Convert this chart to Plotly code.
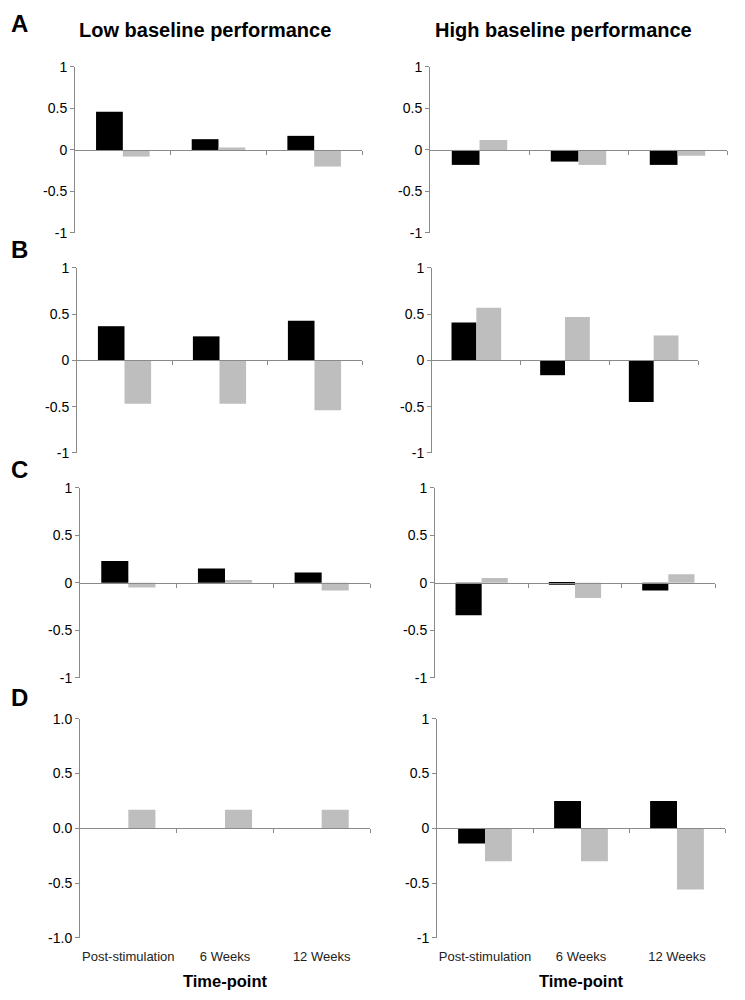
import plotly.graph_objects as go

categories = ["Post-stimulation", "6 Weeks", "12 Weeks"]
panel_letters = ["A", "B", "C", "D"]
column_titles = ["Low baseline performance", "High baseline performance"]
x_title = "Time-point"

# black series / gray series per panel (row, column)
black_A_low = [0.46, 0.13, 0.17]
gray_A_low = [-0.08, 0.03, -0.20]
black_A_high = [-0.18, -0.14, -0.18]
gray_A_high = [0.12, -0.18, -0.07]

black_B_low = [0.37, 0.26, 0.43]
gray_B_low = [-0.47, -0.47, -0.54]
black_B_high = [0.41, -0.16, -0.45]
gray_B_high = [0.57, 0.47, 0.27]

black_C_low = [0.23, 0.15, 0.11]
gray_C_low = [-0.05, 0.03, -0.08]
black_C_high = [-0.34, -0.02, -0.08]
gray_C_high = [0.05, -0.16, 0.09]

black_D_low = [0.0, 0.0, 0.0]
gray_D_low = [0.17, 0.17, 0.17]
black_D_high = [-0.14, 0.25, 0.25]
gray_D_high = [-0.30, -0.30, -0.56]

y_tickvals = [-1, -0.5, 0, 0.5, 1]
y_ticktext_default = ["-1", "-0.5", "0", "0.5", "1"]
y_ticktext_D_low = ["-1.0", "-0.5", "0.0", "0.5", "1.0"]

panels = [
    (black_A_low, gray_A_low), (black_A_high, gray_A_high),
    (black_B_low, gray_B_low), (black_B_high, gray_B_high),
    (black_C_low, gray_C_low), (black_C_high, gray_C_high),
    (black_D_low, gray_D_low), (black_D_high, gray_D_high),
]

W, H = 745, 1000
# pixel layout (left, right) per panel and (top, bottom) per row, in target-picture pixels
x_px = [(75, 362), (430, 727), (77, 362), (432, 698),
        (80, 370), (435, 715), (80, 370), (437, 725)]
y_px = [(67, 233), (268, 453), (488, 678), (719, 938)]


def fy(y):
    # target-picture row -> figure paper fraction (compensates page offset/scale)
    return 1 - ((y - 8) * 1.016) / H


GRAY = "#bebebe"
AXIS = "#8a8a8a"
FONT = "Liberation Sans, Arial, sans-serif"

fig = go.Figure()
layout = {}
for i, (blk, gry) in enumerate(panels):
    k = i + 1
    row, col = divmod(i, 2)
    xd = [x_px[i][0] / W, x_px[i][1] / W]
    yd = [fy(y_px[row][1]), fy(y_px[row][0])]
    ymid = (yd[0] + yd[1]) / 2
    xa = "x" if k == 1 else f"x{k}"
    ya = "y" if k == 1 else f"y{k}"
    fig.add_trace(go.Bar(x=categories, y=blk, marker=dict(color="black", line=dict(width=0)),
                         xaxis=xa, yaxis=ya, showlegend=False))
    fig.add_trace(go.Bar(x=categories, y=gry, marker=dict(color=GRAY, line=dict(width=0)),
                         xaxis=xa, yaxis=ya, showlegend=False))
    bottom = row == 3
    layout[f"xaxis{'' if k == 1 else k}"] = dict(
        domain=xd, anchor=ya, type="category", range=[-0.5, 2.5],
        showline=False, ticks="", showgrid=False, zeroline=False,
        showticklabels=bottom, ticklabelstandoff=9,
        tickfont=dict(family=FONT, size=13, color="#222"),
        title=dict(text=x_title if bottom else "",
                   font=dict(family=FONT, size=16.5, color="black", weight="bold"),
                   standoff=12),
    )
    layout[f"yaxis{'' if k == 1 else k}"] = dict(
        domain=yd, anchor=xa, range=[-1, 1], tickvals=y_tickvals,
        ticktext=y_ticktext_D_low if i == 6 else y_ticktext_default,
        showline=True, linecolor=AXIS, linewidth=1, ticks="outside", ticklen=4,
        tickcolor=AXIS, showgrid=False, zeroline=False,
        tickfont=dict(family=FONT, size=14, color="black"),
    )
    # zero-line axis with category boundary ticks
    ko = 8 + k
    layout[f"xaxis{ko}"] = dict(
        overlaying=xa, anchor="free", position=ymid, range=[-0.5, 2.5],
        tickvals=[0.5, 1.5, 2.5], showticklabels=False, ticks="outside", ticklen=4,
        tickcolor=AXIS, showline=True, linecolor=AXIS, linewidth=1,
        showgrid=False, zeroline=False,
    )
    fig.add_trace(go.Scatter(x=[None], y=[None], xaxis=f"x{ko}", yaxis=ya,
                             showlegend=False, hoverinfo="skip", mode="markers"))

annotations = []
for r, letter in enumerate(panel_letters):
    ytop = [24, 250, 470, 698][r]
    annotations.append(dict(text=letter, x=19 / W, y=fy(ytop), xref="paper", yref="paper",
                            showarrow=False, xanchor="center", yanchor="middle",
                            font=dict(family=FONT, size=24, color="black", weight="bold")))
for c, t in enumerate(column_titles):
    annotations.append(dict(text=t, x=[205, 563][c] / W, y=fy(30), xref="paper", yref="paper",
                            showarrow=False, xanchor="center", yanchor="middle",
                            font=dict(family=FONT, size=20, color="black", weight="bold")))

fig.update_layout(
    width=W, height=H, margin=dict(l=0, r=0, t=0, b=0),
    paper_bgcolor="white", plot_bgcolor="white",
    barmode="group", bargap=0.44, bargroupgap=0,
    annotations=annotations, **layout,
)
fig.write_html("out.html", config={"displayModeBar": False},
               post_script="document.body.style.margin='0';document.body.style.overflow='hidden';")
